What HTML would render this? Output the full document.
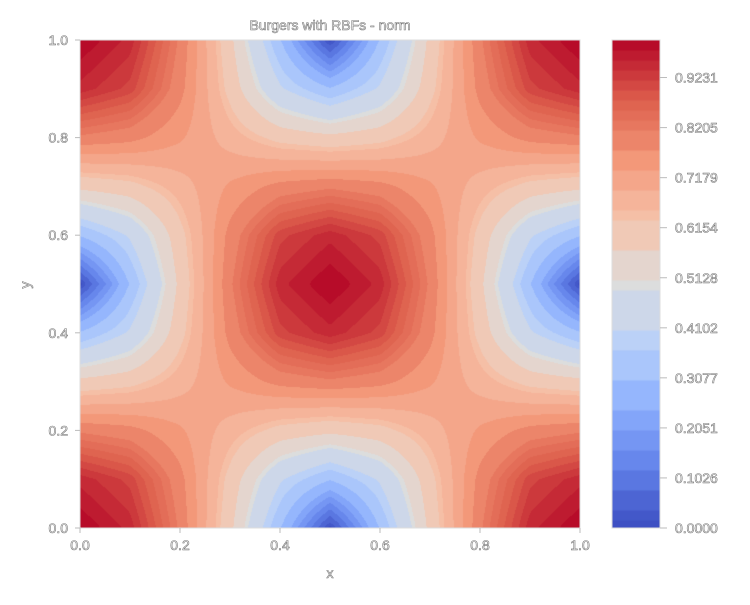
<!DOCTYPE html>
<html><head><meta charset="utf-8"><style>
body{margin:0;background:#fff;width:750px;height:600px;overflow:hidden;font-family:"Liberation Sans","DejaVu Sans",sans-serif}
svg text{font-family:"Liberation Sans","DejaVu Sans",sans-serif;fill:#fff;stroke:#777;stroke-width:0.6px;font-size:14px}
</style></head><body>
<svg id="chart" width="750" height="600" xmlns="http://www.w3.org/2000/svg">
<foreignObject x="80" y="40" width="500" height="488"><canvas id="cv" width="500" height="488" xmlns="http://www.w3.org/1999/xhtml" style="display:block"></canvas></foreignObject>
<rect x="80" y="40" width="500" height="488" fill="none" stroke="#ddd"/>
<foreignObject x="612" y="40" width="48" height="488"><canvas id="cb" width="48" height="488" xmlns="http://www.w3.org/1999/xhtml" style="display:block"></canvas></foreignObject>
<rect x="612" y="40" width="48" height="488" fill="none" stroke="#ddd"/>
<text x="330" y="30" text-anchor="middle" font-size="15">Burgers with RBFs - norm</text>
<text x="330" y="578" text-anchor="middle">x</text>
<text x="30" y="285" text-anchor="middle" transform="rotate(-90 30 285)">y</text>
<g id="axes"></g>
</svg>
<script>
const xTicks=[0,0.2,0.4,0.6,0.8,1.0];
const yTicks=[0,0.2,0.4,0.6,0.8,1.0];
const cbTicks=[0,0.1026,0.2051,0.3077,0.4102,0.5128,0.6154,0.7179,0.8205,0.9231];
const levels=[0,.0164,.0369,.0779,.1189,.1598,.2008,.2418,.3033,.3648,.4057,.4877,.5082,.5697,.6311,.6516,.6926,.7336,.7746,.8156,.8361,.8566,.877,.8975,.918,.9385,.959,.9795,1.0];
const gridX=[0,0.1,0.2,0.3,0.4,0.5,0.6,0.7,0.8,0.9,1.0];
const gridY=[0,0.1,0.2,0.3,0.4,0.5,0.6,0.7,0.8,0.9,1.0];
const normValues=[
[1,.951,.809,.588,.309,0,.309,.588,.809,.951,1],
[.951,.910,.791,.612,.416,.309,.416,.612,.791,.910,.951],
[.809,.791,.740,.673,.612,.588,.612,.673,.740,.791,.809],
[.588,.612,.673,.740,.791,.809,.791,.740,.673,.612,.588],
[.309,.416,.612,.791,.910,.951,.910,.791,.612,.416,.309],
[0,.309,.588,.809,.951,1,.951,.809,.588,.309,0],
[.309,.416,.612,.791,.910,.951,.910,.791,.612,.416,.309],
[.588,.612,.673,.740,.791,.809,.791,.740,.673,.612,.588],
[.809,.791,.740,.673,.612,.588,.612,.673,.740,.791,.809],
[.951,.910,.791,.612,.416,.309,.416,.612,.791,.910,.951],
[1,.951,.809,.588,.309,0,.309,.588,.809,.951,1]];
const vmin=0, vmax=1.0;
const X0=80,X1=580,Y0=40,Y1=528;
const sx=v=>X0+(v-0)/(1-0)*(X1-X0), sy=v=>Y1-(v-0)/(1-0)*(Y1-Y0);
const cbY=v=>Y1-(v-vmin)/(vmax-vmin)*(Y1-Y0);
const stops=[[0,59,76,192],[.125,98,130,234],[.25,141,176,254],[.375,184,208,249],[.5,221,221,221],[.625,245,196,173],[.75,244,154,123],[.875,222,96,77],[1,180,4,38]];
function cmap(t){t=Math.max(0,Math.min(1,t));for(let i=1;i<stops.length;i++){if(t<=stops[i][0]){const a=stops[i-1],b=stops[i],f=(t-a[0])/(b[0]-a[0]);return [0,1,2].map(k=>Math.round(a[k+1]+(b[k+1]-a[k+1])*f));}}return [180,4,38];}
function bandIndex(v){let k=0;while(k<levels.length-2&&v>=levels[k+1])k++;return k;}
const bandColors=[];for(let k=0;k<levels.length-1;k++){bandColors.push(cmap(((levels[k]+levels[k+1])/2-vmin)/(vmax-vmin)));}
function interp(x,y){const n=gridX.length-1;let i=Math.min(n-1,Math.floor(x*n)),j=Math.min(gridY.length-2,Math.floor(y*(gridY.length-1)));
const fx=(x-gridX[i])/(gridX[i+1]-gridX[i]),fy=(y-gridY[j])/(gridY[j+1]-gridY[j]);
const v00=normValues[j][i],v10=normValues[j][i+1],v01=normValues[j+1][i],v11=normValues[j+1][i+1];
return v00*(1-fx)*(1-fy)+v10*fx*(1-fy)+v01*(1-fx)*fy+v11*fx*fy;}
const cv=document.getElementById('cv'),ctx=cv.getContext('2d');
const img=ctx.createImageData(500,488);
for(let py=0;py<488;py++)for(let px=0;px<500;px++){
const x=(px+0.5)/500,y=1-(py+0.5)/488;const c=bandColors[bandIndex(interp(x,y))];const o=(py*500+px)*4;
img.data[o]=c[0];img.data[o+1]=c[1];img.data[o+2]=c[2];img.data[o+3]=255;}
ctx.putImageData(img,0,0);
const cb=document.getElementById('cb'),cctx=cb.getContext('2d');
for(let k=0;k<levels.length-1;k++){const c=bandColors[k];cctx.fillStyle=`rgb(${c})`;
const ya=cbY(levels[k+1])-Y0,yb=cbY(levels[k])-Y0;cctx.fillRect(0,ya,48,yb-ya+0.5);}
const ax=document.getElementById('axes'),NS='http://www.w3.org/2000/svg';
function mk(tag,at,txt){const e=document.createElementNS(NS,tag);for(const k in at)e.setAttribute(k,at[k]);if(txt!==undefined)e.textContent=txt;ax.appendChild(e);return e;}
xTicks.forEach(t=>{const l=mk('line',{x1:sx(t),x2:sx(t),y1:Y1,y2:Y1+5,stroke:'#bbb'});


const tx=mk('text',{x:sx(t),y:Y1+22,'text-anchor':'middle'},t.toFixed(1));

});
yTicks.forEach(t=>{const l=mk('line',{x1:X0-5,x2:X0,y1:sy(t),y2:sy(t),stroke:'#bbb'});


const tx=mk('text',{x:X0-12,y:sy(t)+5,'text-anchor':'end'},t.toFixed(1));

});
cbTicks.forEach(t=>{const l=mk('line',{x1:660,x2:667,y1:cbY(t),y2:cbY(t),stroke:'#bbb'});


const tx=mk('text',{x:675,y:cbY(t)+5},t.toFixed(4));

});
</script>
</body></html>
